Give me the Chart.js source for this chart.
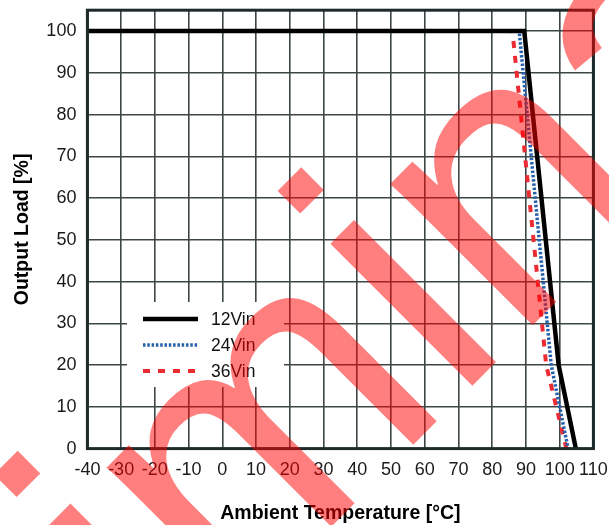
<!DOCTYPE html>
<html>
<head>
<meta charset="utf-8">
<script src="https://cdn.jsdelivr.net/npm/chart.js@4.4.1/dist/chart.umd.min.js"></script>
<style>
  html, body { margin: 0; padding: 0; background: #fff; }
  #wrap { width: 609px; height: 525px; }
</style>
</head>
<body>
<div id="wrap"><canvas id="chart-derating" width="609" height="525"></canvas></div>
<script>
(function () {
  'use strict';

  // ── Data ────────────────────────────────────────────────
  var SERIES_NAMES = ['12Vin', '24Vin', '36Vin'];
  var temp12 = [-40, 89.5, 99.7, 104.8];
  var load12 = [100, 100, 20, 0];
  var temp24 = [-40, 88, 97.5, 102.5];
  var load24 = [100, 100, 20, 0];
  var temp36 = [-40, 86, 96, 102];
  var load36 = [100, 100, 20, 0];
  var X_TICKS = [-40, -30, -20, -10, 0, 10, 20, 30, 40, 50, 60, 70, 80, 90, 100, 110];
  var Y_TICKS = [0, 10, 20, 30, 40, 50, 60, 70, 80, 90, 100];
  var WATERMARK = 'Preliminary';

  var BLACK = '#000000';
  var BLUE  = '#2560ad';
  var RED   = '#ec2b33';
  var GRID  = '#3c4646';
  var FRAME = '#1f2b2b';

  var FONT = "'Liberation Sans', Arial, sans-serif";

  function pts(xs, ys) {
    return xs.map(function (x, i) { return { x: x, y: ys[i] }; });
  }

  // ── Plugins ─────────────────────────────────────────────
  var framePlugin = {
    id: 'frame',
    afterDatasetsDraw: function (chart) {
      var a = chart.chartArea, c = chart.ctx;
      c.save();
      c.strokeStyle = FRAME;
      c.lineWidth = 3;
      c.strokeRect(a.left, a.top, a.right - a.left, a.bottom - a.top);
      c.restore();
    }
  };

  var legendPlugin = {
    id: 'insideLegend',
    afterDatasetsDraw: function (chart) {
      var c = chart.ctx;
      c.save();
      c.fillStyle = '#fff';
      c.fillRect(127, 302, 157, 85);
      chart.data.datasets.forEach(function (ds, i) {
        var y = 319 + i * 26;
        c.strokeStyle = ds.borderColor;
        c.lineWidth = ds.borderWidth;
        c.setLineDash(ds.borderDash || []);
        c.beginPath();
        c.moveTo(143, y);
        c.lineTo(198, y);
        c.stroke();
        c.setLineDash([]);
        c.fillStyle = '#111';
        c.font = '17.5px ' + FONT;
        c.textAlign = 'left';
        c.textBaseline = 'middle';
        c.fillText(ds.label, 211, y + 1);
      });
      c.restore();
    }
  };

  var watermarkPlugin = {
    id: 'watermark',
    afterDraw: function (chart) {
      var c = chart.ctx;
      c.save();
      c.translate(-307, 1165);
      c.rotate(-Math.PI / 4);
      c.fillStyle = 'rgba(255,0,0,0.5)';
      c.font = '380px ' + FONT;
      c.textAlign = 'left';
      c.textBaseline = 'alphabetic';
      c.fillText(WATERMARK, 0, 0);
      c.restore();
    }
  };

  // ── Chart ───────────────────────────────────────────────
  var ctx = document.getElementById('chart-derating');

  new Chart(ctx, {
    type: 'line',
    data: {
      datasets: [
        { label: SERIES_NAMES[0], data: pts(temp12, load12), borderColor: BLACK, borderWidth: 4.5 },
        { label: SERIES_NAMES[1], data: pts(temp24, load24), borderColor: BLUE, borderWidth: 3.5, borderDash: [2.5, 1.8] },
        { label: SERIES_NAMES[2], data: pts(temp36, load36), borderColor: RED, borderWidth: 4, borderDash: [7, 8] }
      ]
    },
    options: {
      responsive: false,
      animation: false,
      devicePixelRatio: 1,
      elements: { point: { radius: 0 }, line: { tension: 0, fill: false } },
      layout: { padding: { left: 0, right: 15.6, top: 10.2, bottom: 0 } },
      plugins: { legend: { display: false }, tooltip: { enabled: false } },
      scales: {
        x: {
          type: 'linear',
          min: -40,
          max: 110,
          afterFit: function (s) { s.height = 76.4; s.paddingLeft = 0; s.paddingRight = 0; },
          afterBuildTicks: function (s) { s.ticks = X_TICKS.map(function (v) { return { value: v }; }); },
          grid: { color: GRID, lineWidth: 1.6, drawTicks: false },
          border: { display: false },
          ticks: { padding: 11, color: '#1a1a1a', font: { family: FONT, size: 18 }, maxRotation: 0, autoSkip: false },
          title: { display: true, text: 'Ambient Temperature [°C]', color: '#000', padding: { top: 3, bottom: 0 },
                   font: { family: FONT, size: 19.5, weight: 'bold' } }
        },
        y: {
          type: 'linear',
          min: 0,
          max: 105,
          afterFit: function (s) { s.width = 87.4; s.paddingTop = 0; s.paddingBottom = 0; },
          afterBuildTicks: function (s) { s.ticks = Y_TICKS.map(function (v) { return { value: v }; }); },
          grid: { color: GRID, lineWidth: 1.6, drawTicks: false },
          border: { display: false },
          ticks: { padding: 11, color: '#1a1a1a', font: { family: FONT, size: 18 }, autoSkip: false },
          title: { display: true, text: 'Output Load [%]', color: '#000', padding: { top: 11, bottom: 0 },
                   font: { family: FONT, size: 19.5, weight: 'bold' } }
        }
      }
    },
    plugins: [framePlugin, legendPlugin, watermarkPlugin]
  });
}());
</script>
</body>
</html>
